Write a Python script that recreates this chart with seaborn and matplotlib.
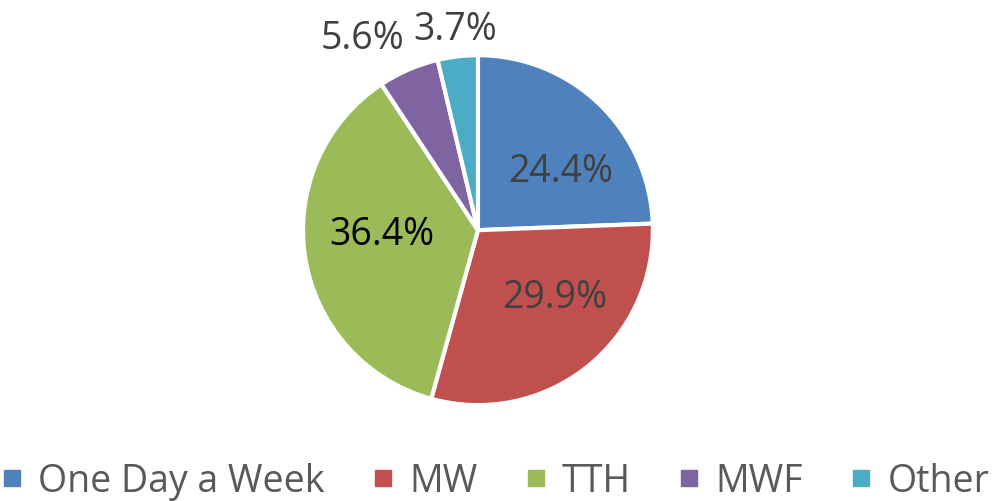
import matplotlib
matplotlib.use("Agg")
import matplotlib.pyplot as plt
from matplotlib.lines import Line2D
import seaborn as sns

# Data
categories = ["One Day a Week", "MW", "TTH", "MWF", "Other"]
shares = [24.4, 29.9, 36.4, 5.6, 3.7]
colors = ["#4F81BD", "#C0504D", "#9BBB59", "#8064A2", "#4BACC6"]

sns.set_theme(style="white")
plt.rcParams["font.family"] = ["Open Sans", "DejaVu Sans"]
palette = sns.color_palette(colors)

fig = plt.figure(figsize=(9.92, 5.02), dpi=100)
ax = fig.add_axes([0.3054, 0.191, 0.3528, 0.697])

wedges, texts, autotexts = ax.pie(
    shares, colors=palette, startangle=90, counterclock=False,
    autopct="%.1f%%", pctdistance=0.58,
    wedgeprops={"edgecolor": "white", "linewidth": 3},
    textprops={"fontsize": 27, "color": "#404040"},
)
ax.set_aspect("equal")
ax.set_xlim(-1, 1)
ax.set_ylim(-1, 1)

# dark label on the green slice
autotexts[2].set_color("black")
# label placement as in the original (Excel best fit)
label_pos = [(0.47, 0.34), (0.44, -0.38), (-0.55, -0.02), (-0.66, 1.10), (-0.13, 1.15)]
for t, p in zip(autotexts, label_pos):
    t.set_position(p)
    t.set_clip_on(False)

handles = [Line2D([0], [0], marker="s", linestyle="", markersize=12,
                  markerfacecolor=c, markeredgecolor=c) for c in palette]
fig.legend(handles, categories, loc="center", bbox_to_anchor=(0.5, 0.04),
           ncol=5, frameon=False, fontsize=27, handlelength=0.5,
           handletextpad=0.45, columnspacing=1.3, labelcolor="#595959",
           borderaxespad=0, borderpad=0)

fig.savefig("out.png", dpi=100)
